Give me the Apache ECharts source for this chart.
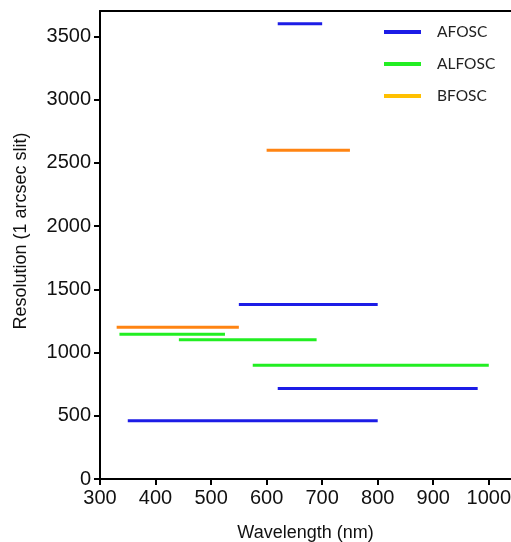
<!DOCTYPE html>
<html>
<head>
<meta charset="utf-8">
<script src="https://cdn.jsdelivr.net/npm/echarts@6/dist/echarts.min.js"></script>
<style>
  html, body { margin: 0; padding: 0; background: #fff; }
  #chart { width: 511px; height: 542px; }
</style>
</head>
<body>
<div id="chart"></div>
<script>
// instruments, one entry per segment
const segInstrument = ['AFOSC', 'AFOSC', 'AFOSC', 'AFOSC', 'ALFOSC', 'ALFOSC', 'ALFOSC', 'BFOSC', 'BFOSC'];
const segStart = [620, 550, 620, 350, 335, 442, 575, 600, 330];
const segEnd = [700, 800, 980, 800, 525, 690, 1000, 750, 550];
const segResolution = [3600, 1380, 715, 460, 1145, 1100, 900, 2600, 1200];

const legendNames = ['AFOSC', 'ALFOSC', 'BFOSC'];
const lineColors = { AFOSC: '#1c1ce6', ALFOSC: '#22ee22', BFOSC: '#ff8412' };
const legendColors = { AFOSC: '#1c1ce6', ALFOSC: '#22ee22', BFOSC: '#ffc000' };

const xTicks = [300, 400, 500, 600, 700, 800, 900, 1000];
const yTicks = [0, 500, 1000, 1500, 2000, 2500, 3000, 3500];

const chart = echarts.init(document.getElementById('chart'));

const series = segInstrument.map((name, i) => ({
  name: name,
  type: 'line',
  xAxisIndex: 0,
  data: [[segStart[i], segResolution[i]], [segEnd[i], segResolution[i]]],
  symbol: 'none',
  silent: true,
  lineStyle: { color: lineColors[name], width: 3 },
  itemStyle: { color: lineColors[name] }
}));

const option = {
  animation: false,
  backgroundColor: '#fff',
  grid: { left: 100, right: 0, top: 11, bottom: 63, outerBoundsMode: 'none', containLabel: false },
  legend: {
    data: legendNames.map(n => ({
      name: n,
      icon: 'rect',
      itemStyle: { color: legendColors[n] },
      lineStyle: { color: legendColors[n] }
    })),
    orient: 'vertical',
    left: 379,
    top: 19,
    itemWidth: 37,
    itemHeight: 4,
    itemGap: 16,
    textStyle: { fontFamily: 'Lato', fontSize: 15.5, color: '#222', padding: [0, 0, 0, 11] }
  },
  xAxis: [{
    type: 'value',
    min: 300,
    max: 1040,
    name: 'Wavelength (nm)',
    nameLocation: 'middle',
    nameGap: 45,
    nameTextStyle: { fontFamily: 'Liberation Sans', fontSize: 18, color: '#111' },
    splitLine: { show: false },
    axisLine: { lineStyle: { color: '#000', width: 2 } },
    axisTick: { show: true, length: 6, inside: false, customValues: xTicks, lineStyle: { color: '#000', width: 2 } },
    axisLabel: { customValues: xTicks, formatter: v => String(v), fontFamily: 'Liberation Sans', fontSize: 20, color: '#111', margin: 9 }
  }, {
    type: 'value',
    position: 'top',
    min: 300,
    max: 1040,
    splitLine: { show: false },
    axisLine: { show: true, lineStyle: { color: '#000', width: 2 } },
    axisTick: { show: false },
    axisLabel: { show: false }
  }],
  yAxis: {
    type: 'value',
    min: 0,
    max: 3700,
    name: 'Resolution (1 arcsec slit)',
    nameLocation: 'middle',
    nameRotate: 90,
    nameGap: 70,
    nameTextStyle: { fontFamily: 'Liberation Sans', fontSize: 18, color: '#111', padding: [0, 0, 0, 28] },
    splitLine: { show: false },
    axisLine: { show: true, lineStyle: { color: '#000', width: 2 } },
    axisTick: { show: true, length: 6, customValues: yTicks, lineStyle: { color: '#000', width: 2 } },
    axisLabel: { customValues: yTicks, formatter: v => String(v), fontFamily: 'Liberation Sans', fontSize: 20, color: '#111', margin: 9 }
  },
  series: series
};

chart.setOption(option);
</script>
</body>
</html>
